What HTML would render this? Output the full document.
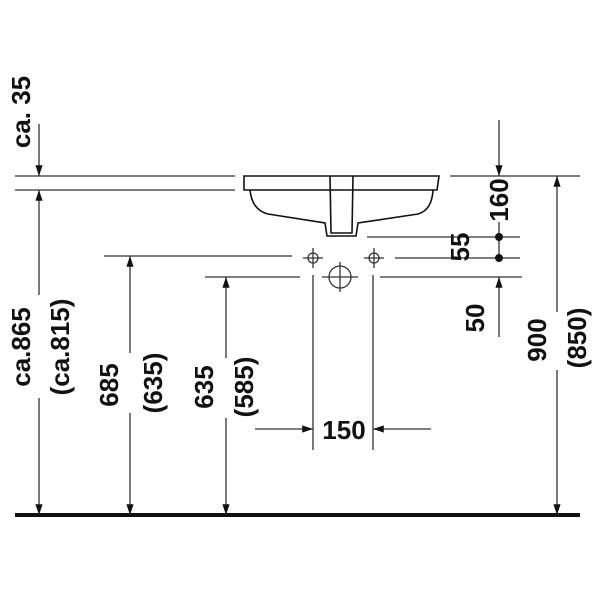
<!DOCTYPE html>
<html><head><meta charset="utf-8"><style>
html,body{margin:0;padding:0;background:#fff;width:600px;height:600px;overflow:hidden}
text{font-family:"Liberation Sans",sans-serif;font-weight:bold;font-size:26px;fill:#111}
</style></head><body>
<svg width="600" height="600" viewBox="0 0 600 600" xmlns="http://www.w3.org/2000/svg">
<defs>
<marker id="a" viewBox="0 0 12 10" refX="12" refY="5" markerWidth="12" markerHeight="9" orient="auto-start-reverse" markerUnits="userSpaceOnUse"><path d="M0,1 L12,5 L0,9 z" fill="#111"/></marker>
</defs>
<g stroke="#333" stroke-width="1.3" fill="none">
<line x1="15" y1="176" x2="235" y2="176"/>
<line x1="15" y1="190" x2="235" y2="190"/>
<line x1="450" y1="176" x2="580" y2="176"/>
<path d="M244,176 L439,176 L437,190 L244,190 Z" stroke="#111" stroke-width="1.6"/>
<path d="M250,190 Q252,210 268,214 L325,223 L327,236 L356,236 L358,223 L418,214 Q432,210 433,190" stroke="#111" stroke-width="1.6"/>
<path d="M330,176 L331,233 L352,233 L353,176" stroke="#111" stroke-width="1.6"/>
<line x1="104" y1="256" x2="292" y2="256"/>
<line x1="205" y1="277" x2="300" y2="277"/>
<line x1="367" y1="237" x2="520" y2="237"/>
<line x1="395" y1="258" x2="520" y2="258"/>
<line x1="380" y1="277" x2="522" y2="277"/>
<circle cx="313" cy="258" r="5"/><line x1="303" y1="258" x2="323" y2="258"/><line x1="313" y1="248" x2="313" y2="268"/>
<circle cx="374" cy="258" r="5"/><line x1="364" y1="258" x2="384" y2="258"/><line x1="374" y1="248" x2="374" y2="268"/>
<circle cx="340" cy="277" r="11"/><line x1="322" y1="277" x2="358" y2="277"/><line x1="340" y1="262" x2="340" y2="292"/>
<line x1="313" y1="275" x2="313" y2="450"/>
<line x1="373" y1="275" x2="373" y2="450"/>
<line x1="255" y1="429" x2="313" y2="429" marker-end="url(#a)"/>
<line x1="431" y1="429" x2="373" y2="429" marker-end="url(#a)"/>
<line x1="39" y1="124" x2="39" y2="176" marker-end="url(#a)"/>
<line x1="39" y1="295" x2="39" y2="190" marker-end="url(#a)"/>
<line x1="39" y1="398" x2="39" y2="515" marker-end="url(#a)"/>
<line x1="130" y1="353" x2="130" y2="256" marker-end="url(#a)"/>
<line x1="130" y1="413" x2="130" y2="515" marker-end="url(#a)"/>
<line x1="226" y1="358" x2="226" y2="277" marker-end="url(#a)"/>
<line x1="226" y1="418" x2="226" y2="515" marker-end="url(#a)"/>
<line x1="499" y1="120" x2="499" y2="176" marker-end="url(#a)"/>
<line x1="499" y1="222" x2="499" y2="258"/>
<line x1="499" y1="337" x2="499" y2="277" marker-end="url(#a)"/>
<line x1="557" y1="312" x2="557" y2="176" marker-end="url(#a)"/>
<line x1="557" y1="370" x2="557" y2="515" marker-end="url(#a)"/>
</g>
<circle cx="499" cy="237" r="4" fill="#111"/>
<circle cx="499" cy="258" r="4" fill="#111"/>
<line x1="15" y1="515" x2="580" y2="515" stroke="#111" stroke-width="4"/>
<g text-anchor="middle" dominant-baseline="central">
<text transform="translate(21,112) rotate(-90)">ca. 35</text>
<text transform="translate(21,347) rotate(-90)">ca.865</text>
<text transform="translate(60,347) rotate(-90)">(ca.815)</text>
<text transform="translate(109,385) rotate(-90)">685</text>
<text transform="translate(153,383) rotate(-90)">(635)</text>
<text transform="translate(204,387) rotate(-90)">635</text>
<text transform="translate(244,387) rotate(-90)">(585)</text>
<text transform="translate(499,200) rotate(-90)">160</text>
<text transform="translate(460,247) rotate(-90)">55</text>
<text transform="translate(475,318) rotate(-90)">50</text>
<text transform="translate(537,340) rotate(-90)">900</text>
<text transform="translate(577,338) rotate(-90)">(850)</text>
<text x="344" y="430">150</text>
</g>
</svg>
</body></html>
